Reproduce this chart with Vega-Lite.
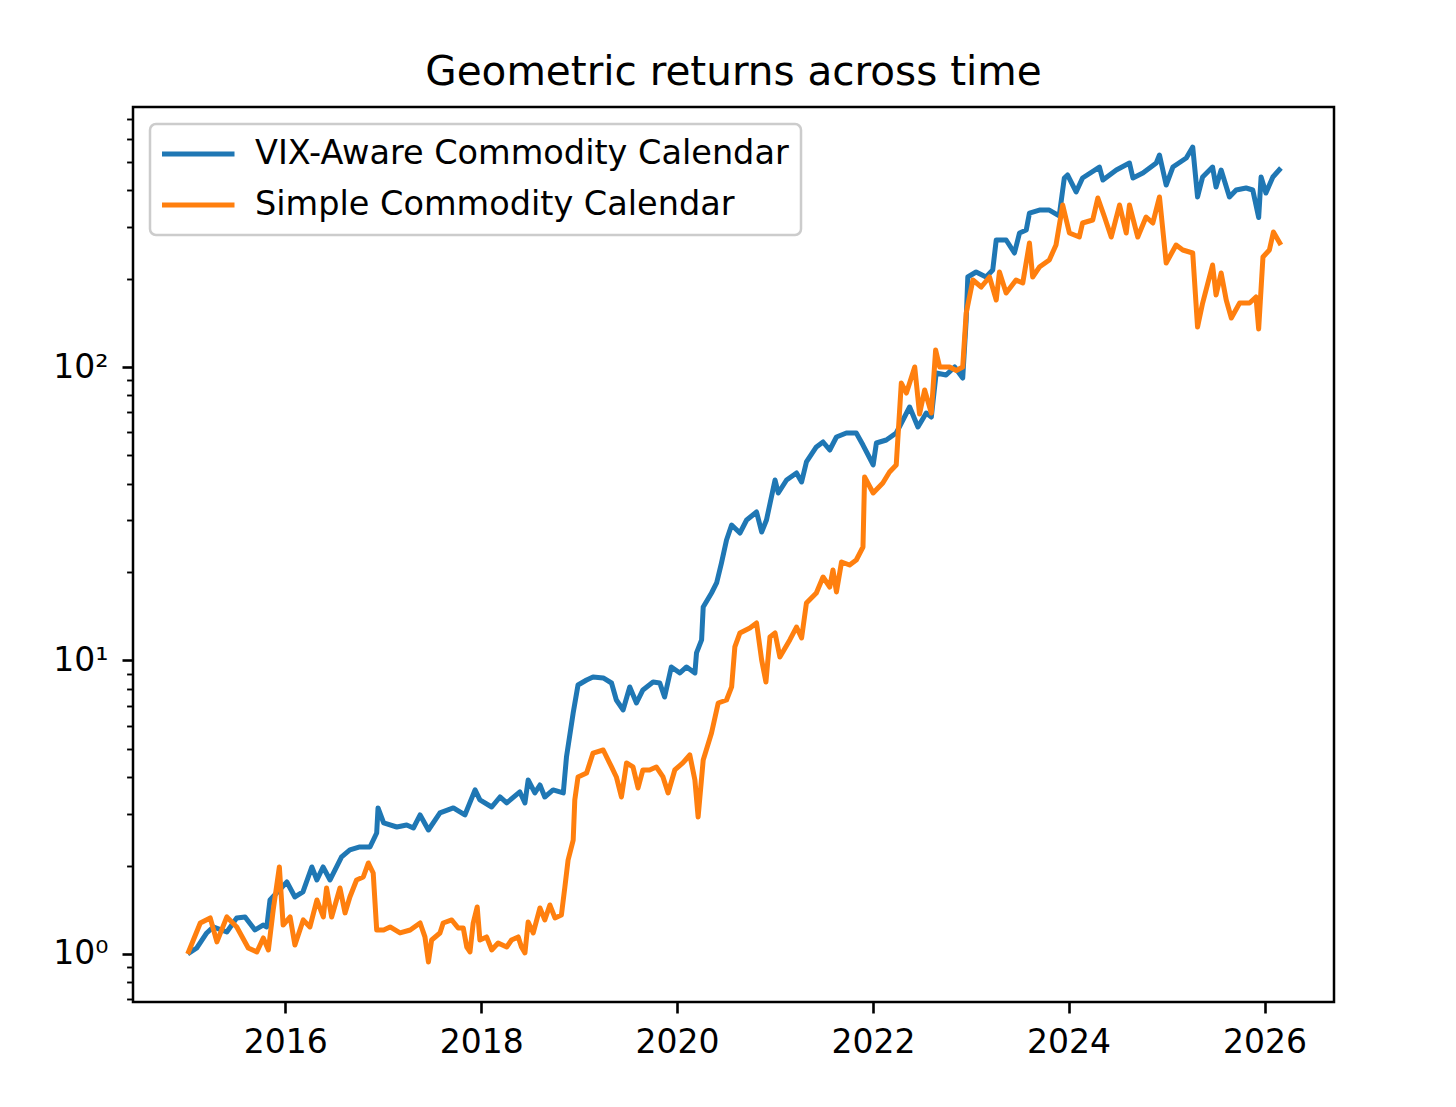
{
  "$schema": "https://vega.github.io/schema/vega-lite/v6.json",
  "autosize": {"type": "none"},
  "padding": {"left": 133, "top": 107, "right": 122, "bottom": 105},
  "width": 1201,
  "height": 895,
  "background": "white",
  "title": {"text": "Geometric returns across time", "fontSize": 40.5, "font": "DejaVu Sans", "fontWeight": "normal", "color": "black", "anchor": "middle", "frame": "group", "offset": -23, "baseline": "alphabetic"},
  "config": {"view": {"stroke": "black", "strokeWidth": 2.5}, "legend": {"strokeWidth": 2.5}},
  "data": {"values": [
    {"date": "2015-01-02", "series": "VIX-Aware Commodity Calendar", "value": 1.0},
    {"date": "2015-02-05", "series": "VIX-Aware Commodity Calendar", "value": 1.048},
    {"date": "2015-03-14", "series": "VIX-Aware Commodity Calendar", "value": 1.179},
    {"date": "2015-04-07", "series": "VIX-Aware Commodity Calendar", "value": 1.236},
    {"date": "2015-05-28", "series": "VIX-Aware Commodity Calendar", "value": 1.188},
    {"date": "2015-07-04", "series": "VIX-Aware Commodity Calendar", "value": 1.327},
    {"date": "2015-08-04", "series": "VIX-Aware Commodity Calendar", "value": 1.337},
    {"date": "2015-09-10", "series": "VIX-Aware Commodity Calendar", "value": 1.207},
    {"date": "2015-10-10", "series": "VIX-Aware Commodity Calendar", "value": 1.255},
    {"date": "2015-10-24", "series": "VIX-Aware Commodity Calendar", "value": 1.236},
    {"date": "2015-11-05", "series": "VIX-Aware Commodity Calendar", "value": 1.527},
    {"date": "2016-01-07", "series": "VIX-Aware Commodity Calendar", "value": 1.759},
    {"date": "2016-02-06", "series": "VIX-Aware Commodity Calendar", "value": 1.564},
    {"date": "2016-03-07", "series": "VIX-Aware Commodity Calendar", "value": 1.627},
    {"date": "2016-04-09", "series": "VIX-Aware Commodity Calendar", "value": 1.979},
    {"date": "2016-04-28", "series": "VIX-Aware Commodity Calendar", "value": 1.787},
    {"date": "2016-05-21", "series": "VIX-Aware Commodity Calendar", "value": 1.979},
    {"date": "2016-06-16", "series": "VIX-Aware Commodity Calendar", "value": 1.787},
    {"date": "2016-07-29", "series": "VIX-Aware Commodity Calendar", "value": 2.141},
    {"date": "2016-08-29", "series": "VIX-Aware Commodity Calendar", "value": 2.262},
    {"date": "2016-10-05", "series": "VIX-Aware Commodity Calendar", "value": 2.315},
    {"date": "2016-11-12", "series": "VIX-Aware Commodity Calendar", "value": 2.315},
    {"date": "2016-12-07", "series": "VIX-Aware Commodity Calendar", "value": 2.584},
    {"date": "2016-12-12", "series": "VIX-Aware Commodity Calendar", "value": 3.144},
    {"date": "2017-01-02", "series": "VIX-Aware Commodity Calendar", "value": 2.795},
    {"date": "2017-02-20", "series": "VIX-Aware Commodity Calendar", "value": 2.708},
    {"date": "2017-03-29", "series": "VIX-Aware Commodity Calendar", "value": 2.751},
    {"date": "2017-04-23", "series": "VIX-Aware Commodity Calendar", "value": 2.687},
    {"date": "2017-05-18", "series": "VIX-Aware Commodity Calendar", "value": 2.976},
    {"date": "2017-06-18", "series": "VIX-Aware Commodity Calendar", "value": 2.645},
    {"date": "2017-07-31", "series": "VIX-Aware Commodity Calendar", "value": 3.023},
    {"date": "2017-09-19", "series": "VIX-Aware Commodity Calendar", "value": 3.144},
    {"date": "2017-11-01", "series": "VIX-Aware Commodity Calendar", "value": 2.976},
    {"date": "2017-12-09", "series": "VIX-Aware Commodity Calendar", "value": 3.622},
    {"date": "2017-12-27", "series": "VIX-Aware Commodity Calendar", "value": 3.348},
    {"date": "2018-02-09", "series": "VIX-Aware Commodity Calendar", "value": 3.168},
    {"date": "2018-03-12", "series": "VIX-Aware Commodity Calendar", "value": 3.427},
    {"date": "2018-04-06", "series": "VIX-Aware Commodity Calendar", "value": 3.27},
    {"date": "2018-05-25", "series": "VIX-Aware Commodity Calendar", "value": 3.565},
    {"date": "2018-06-13", "series": "VIX-Aware Commodity Calendar", "value": 3.27},
    {"date": "2018-06-25", "series": "VIX-Aware Commodity Calendar", "value": 3.915},
    {"date": "2018-07-20", "series": "VIX-Aware Commodity Calendar", "value": 3.537},
    {"date": "2018-08-08", "series": "VIX-Aware Commodity Calendar", "value": 3.765},
    {"date": "2018-08-26", "series": "VIX-Aware Commodity Calendar", "value": 3.427},
    {"date": "2018-09-26", "series": "VIX-Aware Commodity Calendar", "value": 3.622},
    {"date": "2018-11-03", "series": "VIX-Aware Commodity Calendar", "value": 3.537},
    {"date": "2018-11-15", "series": "VIX-Aware Commodity Calendar", "value": 4.69},
    {"date": "2018-12-10", "series": "VIX-Aware Commodity Calendar", "value": 6.624},
    {"date": "2018-12-28", "series": "VIX-Aware Commodity Calendar", "value": 8.252},
    {"date": "2019-01-29", "series": "VIX-Aware Commodity Calendar", "value": 8.582},
    {"date": "2019-02-22", "series": "VIX-Aware Commodity Calendar", "value": 8.785},
    {"date": "2019-04-01", "series": "VIX-Aware Commodity Calendar", "value": 8.717},
    {"date": "2019-05-02", "series": "VIX-Aware Commodity Calendar", "value": 8.381},
    {"date": "2019-05-20", "series": "VIX-Aware Commodity Calendar", "value": 7.334},
    {"date": "2019-06-14", "series": "VIX-Aware Commodity Calendar", "value": 6.782},
    {"date": "2019-07-09", "series": "VIX-Aware Commodity Calendar", "value": 8.124},
    {"date": "2019-08-03", "series": "VIX-Aware Commodity Calendar", "value": 7.164},
    {"date": "2019-08-27", "series": "VIX-Aware Commodity Calendar", "value": 7.935},
    {"date": "2019-10-04", "series": "VIX-Aware Commodity Calendar", "value": 8.447},
    {"date": "2019-10-29", "series": "VIX-Aware Commodity Calendar", "value": 8.381},
    {"date": "2019-11-16", "series": "VIX-Aware Commodity Calendar", "value": 7.508},
    {"date": "2019-12-11", "series": "VIX-Aware Commodity Calendar", "value": 9.504},
    {"date": "2020-01-12", "series": "VIX-Aware Commodity Calendar", "value": 9.067},
    {"date": "2020-02-06", "series": "VIX-Aware Commodity Calendar", "value": 9.504},
    {"date": "2020-03-08", "series": "VIX-Aware Commodity Calendar", "value": 9.067},
    {"date": "2020-03-14", "series": "VIX-Aware Commodity Calendar", "value": 10.61},
    {"date": "2020-04-02", "series": "VIX-Aware Commodity Calendar", "value": 11.75},
    {"date": "2020-04-08", "series": "VIX-Aware Commodity Calendar", "value": 15.22},
    {"date": "2020-05-09", "series": "VIX-Aware Commodity Calendar", "value": 16.98},
    {"date": "2020-05-28", "series": "VIX-Aware Commodity Calendar", "value": 18.37},
    {"date": "2020-06-15", "series": "VIX-Aware Commodity Calendar", "value": 21.48},
    {"date": "2020-07-04", "series": "VIX-Aware Commodity Calendar", "value": 25.74},
    {"date": "2020-07-23", "series": "VIX-Aware Commodity Calendar", "value": 28.95},
    {"date": "2020-08-23", "series": "VIX-Aware Commodity Calendar", "value": 27.19},
    {"date": "2020-09-17", "series": "VIX-Aware Commodity Calendar", "value": 30.11},
    {"date": "2020-10-24", "series": "VIX-Aware Commodity Calendar", "value": 32.06},
    {"date": "2020-11-12", "series": "VIX-Aware Commodity Calendar", "value": 27.41},
    {"date": "2020-11-30", "series": "VIX-Aware Commodity Calendar", "value": 30.11},
    {"date": "2021-01-01", "series": "VIX-Aware Commodity Calendar", "value": 41.21},
    {"date": "2021-01-13", "series": "VIX-Aware Commodity Calendar", "value": 37.21},
    {"date": "2021-02-13", "series": "VIX-Aware Commodity Calendar", "value": 41.21},
    {"date": "2021-03-22", "series": "VIX-Aware Commodity Calendar", "value": 43.53},
    {"date": "2021-04-10", "series": "VIX-Aware Commodity Calendar", "value": 40.57},
    {"date": "2021-04-28", "series": "VIX-Aware Commodity Calendar", "value": 47.46},
    {"date": "2021-06-04", "series": "VIX-Aware Commodity Calendar", "value": 53.39},
    {"date": "2021-06-29", "series": "VIX-Aware Commodity Calendar", "value": 55.53},
    {"date": "2021-07-24", "series": "VIX-Aware Commodity Calendar", "value": 52.14},
    {"date": "2021-08-18", "series": "VIX-Aware Commodity Calendar", "value": 57.74},
    {"date": "2021-09-24", "series": "VIX-Aware Commodity Calendar", "value": 59.58},
    {"date": "2021-10-31", "series": "VIX-Aware Commodity Calendar", "value": 59.58},
    {"date": "2021-11-25", "series": "VIX-Aware Commodity Calendar", "value": 54.22},
    {"date": "2021-12-20", "series": "VIX-Aware Commodity Calendar", "value": 48.97},
    {"date": "2022-01-02", "series": "VIX-Aware Commodity Calendar", "value": 46.36},
    {"date": "2022-01-14", "series": "VIX-Aware Commodity Calendar", "value": 55.08},
    {"date": "2022-02-20", "series": "VIX-Aware Commodity Calendar", "value": 56.4},
    {"date": "2022-03-29", "series": "VIX-Aware Commodity Calendar", "value": 59.58},
    {"date": "2022-04-23", "series": "VIX-Aware Commodity Calendar", "value": 65.98},
    {"date": "2022-05-18", "series": "VIX-Aware Commodity Calendar", "value": 73.06},
    {"date": "2022-06-18", "series": "VIX-Aware Commodity Calendar", "value": 62.46},
    {"date": "2022-07-19", "series": "VIX-Aware Commodity Calendar", "value": 69.7},
    {"date": "2022-08-07", "series": "VIX-Aware Commodity Calendar", "value": 67.53},
    {"date": "2022-08-25", "series": "VIX-Aware Commodity Calendar", "value": 95.4},
    {"date": "2022-10-01", "series": "VIX-Aware Commodity Calendar", "value": 93.9},
    {"date": "2022-11-02", "series": "VIX-Aware Commodity Calendar", "value": 100.0},
    {"date": "2022-12-02", "series": "VIX-Aware Commodity Calendar", "value": 91.74},
    {"date": "2022-12-15", "series": "VIX-Aware Commodity Calendar", "value": 144.6},
    {"date": "2022-12-21", "series": "VIX-Aware Commodity Calendar", "value": 202.6},
    {"date": "2023-01-21", "series": "VIX-Aware Commodity Calendar", "value": 210.7},
    {"date": "2023-02-27", "series": "VIX-Aware Commodity Calendar", "value": 202.6},
    {"date": "2023-03-24", "series": "VIX-Aware Commodity Calendar", "value": 214.0},
    {"date": "2023-04-06", "series": "VIX-Aware Commodity Calendar", "value": 270.9},
    {"date": "2023-05-13", "series": "VIX-Aware Commodity Calendar", "value": 270.9},
    {"date": "2023-06-13", "series": "VIX-Aware Commodity Calendar", "value": 244.6},
    {"date": "2023-07-02", "series": "VIX-Aware Commodity Calendar", "value": 286.2},
    {"date": "2023-07-27", "series": "VIX-Aware Commodity Calendar", "value": 293.0},
    {"date": "2023-08-08", "series": "VIX-Aware Commodity Calendar", "value": 334.6},
    {"date": "2023-09-14", "series": "VIX-Aware Commodity Calendar", "value": 342.6},
    {"date": "2023-10-21", "series": "VIX-Aware Commodity Calendar", "value": 342.6},
    {"date": "2023-11-27", "series": "VIX-Aware Commodity Calendar", "value": 327.5},
    {"date": "2023-12-16", "series": "VIX-Aware Commodity Calendar", "value": 440.6},
    {"date": "2023-12-28", "series": "VIX-Aware Commodity Calendar", "value": 451.1},
    {"date": "2024-01-29", "series": "VIX-Aware Commodity Calendar", "value": 394.8},
    {"date": "2024-02-22", "series": "VIX-Aware Commodity Calendar", "value": 440.6},
    {"date": "2024-04-25", "series": "VIX-Aware Commodity Calendar", "value": 480.1},
    {"date": "2024-05-08", "series": "VIX-Aware Commodity Calendar", "value": 433.6},
    {"date": "2024-06-27", "series": "VIX-Aware Commodity Calendar", "value": 469.0},
    {"date": "2024-08-15", "series": "VIX-Aware Commodity Calendar", "value": 495.5},
    {"date": "2024-08-28", "series": "VIX-Aware Commodity Calendar", "value": 440.6},
    {"date": "2024-10-04", "series": "VIX-Aware Commodity Calendar", "value": 458.1},
    {"date": "2024-11-23", "series": "VIX-Aware Commodity Calendar", "value": 495.5},
    {"date": "2024-12-05", "series": "VIX-Aware Commodity Calendar", "value": 527.7},
    {"date": "2024-12-30", "series": "VIX-Aware Commodity Calendar", "value": 417.0},
    {"date": "2025-01-24", "series": "VIX-Aware Commodity Calendar", "value": 480.1},
    {"date": "2025-03-15", "series": "VIX-Aware Commodity Calendar", "value": 515.4},
    {"date": "2025-04-08", "series": "VIX-Aware Commodity Calendar", "value": 561.7},
    {"date": "2025-04-26", "series": "VIX-Aware Commodity Calendar", "value": 379.6},
    {"date": "2025-05-15", "series": "VIX-Aware Commodity Calendar", "value": 444.1},
    {"date": "2025-06-21", "series": "VIX-Aware Commodity Calendar", "value": 480.1},
    {"date": "2025-07-04", "series": "VIX-Aware Commodity Calendar", "value": 410.5},
    {"date": "2025-07-23", "series": "VIX-Aware Commodity Calendar", "value": 469.0},
    {"date": "2025-08-23", "series": "VIX-Aware Commodity Calendar", "value": 379.6},
    {"date": "2025-09-17", "series": "VIX-Aware Commodity Calendar", "value": 401.0},
    {"date": "2025-10-24", "series": "VIX-Aware Commodity Calendar", "value": 407.3},
    {"date": "2025-11-18", "series": "VIX-Aware Commodity Calendar", "value": 401.0},
    {"date": "2025-12-10", "series": "VIX-Aware Commodity Calendar", "value": 323.1},
    {"date": "2025-12-19", "series": "VIX-Aware Commodity Calendar", "value": 444.1},
    {"date": "2026-01-06", "series": "VIX-Aware Commodity Calendar", "value": 391.6},
    {"date": "2026-02-01", "series": "VIX-Aware Commodity Calendar", "value": 444.1},
    {"date": "2026-03-03", "series": "VIX-Aware Commodity Calendar", "value": 476.4},
    {"date": "2015-01-02", "series": "Simple Commodity Calendar", "value": 1.0},
    {"date": "2015-02-18", "series": "Simple Commodity Calendar", "value": 1.275},
    {"date": "2015-03-27", "series": "Simple Commodity Calendar", "value": 1.327},
    {"date": "2015-04-21", "series": "Simple Commodity Calendar", "value": 1.099},
    {"date": "2015-05-28", "series": "Simple Commodity Calendar", "value": 1.337},
    {"date": "2015-07-04", "series": "Simple Commodity Calendar", "value": 1.236},
    {"date": "2015-08-16", "series": "Simple Commodity Calendar", "value": 1.048},
    {"date": "2015-09-17", "series": "Simple Commodity Calendar", "value": 1.016},
    {"date": "2015-10-11", "series": "Simple Commodity Calendar", "value": 1.134},
    {"date": "2015-10-30", "series": "Simple Commodity Calendar", "value": 1.032},
    {"date": "2015-11-17", "series": "Simple Commodity Calendar", "value": 1.412},
    {"date": "2015-12-10", "series": "Simple Commodity Calendar", "value": 1.979},
    {"date": "2015-12-24", "series": "Simple Commodity Calendar", "value": 1.255},
    {"date": "2016-01-19", "series": "Simple Commodity Calendar", "value": 1.337},
    {"date": "2016-02-06", "series": "Simple Commodity Calendar", "value": 1.073},
    {"date": "2016-03-08", "series": "Simple Commodity Calendar", "value": 1.306},
    {"date": "2016-04-02", "series": "Simple Commodity Calendar", "value": 1.236},
    {"date": "2016-04-28", "series": "Simple Commodity Calendar", "value": 1.527},
    {"date": "2016-05-22", "series": "Simple Commodity Calendar", "value": 1.337},
    {"date": "2016-06-03", "series": "Simple Commodity Calendar", "value": 1.678},
    {"date": "2016-06-22", "series": "Simple Commodity Calendar", "value": 1.337},
    {"date": "2016-07-23", "series": "Simple Commodity Calendar", "value": 1.678},
    {"date": "2016-08-11", "series": "Simple Commodity Calendar", "value": 1.38},
    {"date": "2016-08-29", "series": "Simple Commodity Calendar", "value": 1.564},
    {"date": "2016-09-23", "series": "Simple Commodity Calendar", "value": 1.787},
    {"date": "2016-10-18", "series": "Simple Commodity Calendar", "value": 1.829},
    {"date": "2016-11-06", "series": "Simple Commodity Calendar", "value": 2.042},
    {"date": "2016-11-24", "series": "Simple Commodity Calendar", "value": 1.888},
    {"date": "2016-12-07", "series": "Simple Commodity Calendar", "value": 1.207},
    {"date": "2017-01-02", "series": "Simple Commodity Calendar", "value": 1.207},
    {"date": "2017-01-26", "series": "Simple Commodity Calendar", "value": 1.236},
    {"date": "2017-03-04", "series": "Simple Commodity Calendar", "value": 1.179},
    {"date": "2017-04-11", "series": "Simple Commodity Calendar", "value": 1.207},
    {"date": "2017-05-18", "series": "Simple Commodity Calendar", "value": 1.275},
    {"date": "2017-06-05", "series": "Simple Commodity Calendar", "value": 1.143},
    {"date": "2017-06-18", "series": "Simple Commodity Calendar", "value": 0.939},
    {"date": "2017-06-30", "series": "Simple Commodity Calendar", "value": 1.116},
    {"date": "2017-07-31", "series": "Simple Commodity Calendar", "value": 1.179},
    {"date": "2017-08-12", "series": "Simple Commodity Calendar", "value": 1.275},
    {"date": "2017-09-13", "series": "Simple Commodity Calendar", "value": 1.306},
    {"date": "2017-10-07", "series": "Simple Commodity Calendar", "value": 1.226},
    {"date": "2017-10-26", "series": "Simple Commodity Calendar", "value": 1.226},
    {"date": "2017-11-08", "series": "Simple Commodity Calendar", "value": 1.056},
    {"date": "2017-11-20", "series": "Simple Commodity Calendar", "value": 1.016},
    {"date": "2017-12-02", "series": "Simple Commodity Calendar", "value": 1.275},
    {"date": "2017-12-17", "series": "Simple Commodity Calendar", "value": 1.446},
    {"date": "2017-12-27", "series": "Simple Commodity Calendar", "value": 1.116},
    {"date": "2018-01-21", "series": "Simple Commodity Calendar", "value": 1.143},
    {"date": "2018-02-09", "series": "Simple Commodity Calendar", "value": 1.032},
    {"date": "2018-03-05", "series": "Simple Commodity Calendar", "value": 1.09},
    {"date": "2018-04-06", "series": "Simple Commodity Calendar", "value": 1.056},
    {"date": "2018-04-24", "series": "Simple Commodity Calendar", "value": 1.116},
    {"date": "2018-05-19", "series": "Simple Commodity Calendar", "value": 1.143},
    {"date": "2018-05-31", "series": "Simple Commodity Calendar", "value": 1.056},
    {"date": "2018-06-13", "series": "Simple Commodity Calendar", "value": 1.008},
    {"date": "2018-06-25", "series": "Simple Commodity Calendar", "value": 1.285},
    {"date": "2018-07-14", "series": "Simple Commodity Calendar", "value": 1.179},
    {"date": "2018-08-08", "series": "Simple Commodity Calendar", "value": 1.435},
    {"date": "2018-08-26", "series": "Simple Commodity Calendar", "value": 1.306},
    {"date": "2018-09-14", "series": "Simple Commodity Calendar", "value": 1.469},
    {"date": "2018-10-03", "series": "Simple Commodity Calendar", "value": 1.327},
    {"date": "2018-10-27", "series": "Simple Commodity Calendar", "value": 1.358},
    {"date": "2018-11-09", "series": "Simple Commodity Calendar", "value": 1.691},
    {"date": "2018-11-21", "series": "Simple Commodity Calendar", "value": 2.09},
    {"date": "2018-12-10", "series": "Simple Commodity Calendar", "value": 2.445},
    {"date": "2018-12-16", "series": "Simple Commodity Calendar", "value": 3.348},
    {"date": "2018-12-28", "series": "Simple Commodity Calendar", "value": 4.009},
    {"date": "2019-01-29", "series": "Simple Commodity Calendar", "value": 4.137},
    {"date": "2019-02-22", "series": "Simple Commodity Calendar", "value": 4.838},
    {"date": "2019-04-01", "series": "Simple Commodity Calendar", "value": 4.954},
    {"date": "2019-05-02", "series": "Simple Commodity Calendar", "value": 4.337},
    {"date": "2019-05-20", "series": "Simple Commodity Calendar", "value": 4.009},
    {"date": "2019-06-08", "series": "Simple Commodity Calendar", "value": 3.427},
    {"date": "2019-06-27", "series": "Simple Commodity Calendar", "value": 4.476},
    {"date": "2019-07-21", "series": "Simple Commodity Calendar", "value": 4.337},
    {"date": "2019-08-09", "series": "Simple Commodity Calendar", "value": 3.678},
    {"date": "2019-08-27", "series": "Simple Commodity Calendar", "value": 4.236},
    {"date": "2019-09-21", "series": "Simple Commodity Calendar", "value": 4.236},
    {"date": "2019-10-16", "series": "Simple Commodity Calendar", "value": 4.337},
    {"date": "2019-11-10", "series": "Simple Commodity Calendar", "value": 4.009},
    {"date": "2019-11-29", "series": "Simple Commodity Calendar", "value": 3.537},
    {"date": "2019-12-24", "series": "Simple Commodity Calendar", "value": 4.236},
    {"date": "2020-01-23", "series": "Simple Commodity Calendar", "value": 4.476},
    {"date": "2020-02-18", "series": "Simple Commodity Calendar", "value": 4.764},
    {"date": "2020-03-08", "series": "Simple Commodity Calendar", "value": 3.915},
    {"date": "2020-03-20", "series": "Simple Commodity Calendar", "value": 2.93},
    {"date": "2020-04-08", "series": "Simple Commodity Calendar", "value": 4.581},
    {"date": "2020-05-09", "series": "Simple Commodity Calendar", "value": 5.662},
    {"date": "2020-06-03", "series": "Simple Commodity Calendar", "value": 7.164},
    {"date": "2020-07-04", "series": "Simple Commodity Calendar", "value": 7.334},
    {"date": "2020-07-23", "series": "Simple Commodity Calendar", "value": 8.124},
    {"date": "2020-08-04", "series": "Simple Commodity Calendar", "value": 11.12},
    {"date": "2020-08-23", "series": "Simple Commodity Calendar", "value": 12.41},
    {"date": "2020-09-29", "series": "Simple Commodity Calendar", "value": 12.9},
    {"date": "2020-10-24", "series": "Simple Commodity Calendar", "value": 13.42},
    {"date": "2020-11-12", "series": "Simple Commodity Calendar", "value": 10.04},
    {"date": "2020-11-28", "series": "Simple Commodity Calendar", "value": 8.447},
    {"date": "2020-12-13", "series": "Simple Commodity Calendar", "value": 12.03},
    {"date": "2021-01-01", "series": "Simple Commodity Calendar", "value": 12.41},
    {"date": "2021-01-19", "series": "Simple Commodity Calendar", "value": 10.28},
    {"date": "2021-02-25", "series": "Simple Commodity Calendar", "value": 11.75},
    {"date": "2021-03-22", "series": "Simple Commodity Calendar", "value": 13.0},
    {"date": "2021-04-10", "series": "Simple Commodity Calendar", "value": 11.93},
    {"date": "2021-04-28", "series": "Simple Commodity Calendar", "value": 15.7},
    {"date": "2021-06-04", "series": "Simple Commodity Calendar", "value": 16.98},
    {"date": "2021-06-29", "series": "Simple Commodity Calendar", "value": 19.25},
    {"date": "2021-07-24", "series": "Simple Commodity Calendar", "value": 17.8},
    {"date": "2021-08-05", "series": "Simple Commodity Calendar", "value": 20.34},
    {"date": "2021-08-18", "series": "Simple Commodity Calendar", "value": 17.12},
    {"date": "2021-09-06", "series": "Simple Commodity Calendar", "value": 21.66},
    {"date": "2021-10-06", "series": "Simple Commodity Calendar", "value": 21.15},
    {"date": "2021-10-31", "series": "Simple Commodity Calendar", "value": 22.0},
    {"date": "2021-11-25", "series": "Simple Commodity Calendar", "value": 24.36},
    {"date": "2021-12-01", "series": "Simple Commodity Calendar", "value": 42.2},
    {"date": "2022-01-02", "series": "Simple Commodity Calendar", "value": 37.21},
    {"date": "2022-02-07", "series": "Simple Commodity Calendar", "value": 40.25},
    {"date": "2022-03-04", "series": "Simple Commodity Calendar", "value": 43.87},
    {"date": "2022-03-29", "series": "Simple Commodity Calendar", "value": 46.36},
    {"date": "2022-04-17", "series": "Simple Commodity Calendar", "value": 88.2},
    {"date": "2022-05-06", "series": "Simple Commodity Calendar", "value": 81.5},
    {"date": "2022-06-06", "series": "Simple Commodity Calendar", "value": 100.0},
    {"date": "2022-06-24", "series": "Simple Commodity Calendar", "value": 69.2},
    {"date": "2022-07-13", "series": "Simple Commodity Calendar", "value": 83.5},
    {"date": "2022-08-07", "series": "Simple Commodity Calendar", "value": 69.7},
    {"date": "2022-08-23", "series": "Simple Commodity Calendar", "value": 114.3},
    {"date": "2022-09-07", "series": "Simple Commodity Calendar", "value": 100.0},
    {"date": "2022-10-14", "series": "Simple Commodity Calendar", "value": 100.0},
    {"date": "2022-11-08", "series": "Simple Commodity Calendar", "value": 97.3},
    {"date": "2022-12-02", "series": "Simple Commodity Calendar", "value": 100.0},
    {"date": "2022-12-15", "series": "Simple Commodity Calendar", "value": 152.8},
    {"date": "2023-01-09", "series": "Simple Commodity Calendar", "value": 197.9},
    {"date": "2023-02-09", "series": "Simple Commodity Calendar", "value": 187.3},
    {"date": "2023-03-12", "series": "Simple Commodity Calendar", "value": 202.6},
    {"date": "2023-04-06", "series": "Simple Commodity Calendar", "value": 169.1},
    {"date": "2023-04-18", "series": "Simple Commodity Calendar", "value": 210.7},
    {"date": "2023-05-13", "series": "Simple Commodity Calendar", "value": 178.7},
    {"date": "2023-06-19", "series": "Simple Commodity Calendar", "value": 197.9},
    {"date": "2023-07-14", "series": "Simple Commodity Calendar", "value": 193.3},
    {"date": "2023-08-08", "series": "Simple Commodity Calendar", "value": 264.6},
    {"date": "2023-08-20", "series": "Simple Commodity Calendar", "value": 202.6},
    {"date": "2023-09-14", "series": "Simple Commodity Calendar", "value": 219.1},
    {"date": "2023-10-21", "series": "Simple Commodity Calendar", "value": 231.6},
    {"date": "2023-11-15", "series": "Simple Commodity Calendar", "value": 260.4},
    {"date": "2023-12-10", "series": "Simple Commodity Calendar", "value": 356.4},
    {"date": "2024-01-04", "series": "Simple Commodity Calendar", "value": 286.2},
    {"date": "2024-02-10", "series": "Simple Commodity Calendar", "value": 277.3},
    {"date": "2024-02-22", "series": "Simple Commodity Calendar", "value": 309.5},
    {"date": "2024-03-31", "series": "Simple Commodity Calendar", "value": 316.9},
    {"date": "2024-04-19", "series": "Simple Commodity Calendar", "value": 376.5},
    {"date": "2024-05-14", "series": "Simple Commodity Calendar", "value": 324.4},
    {"date": "2024-06-08", "series": "Simple Commodity Calendar", "value": 277.3},
    {"date": "2024-07-09", "series": "Simple Commodity Calendar", "value": 356.4},
    {"date": "2024-08-03", "series": "Simple Commodity Calendar", "value": 286.2},
    {"date": "2024-08-15", "series": "Simple Commodity Calendar", "value": 356.4},
    {"date": "2024-09-15", "series": "Simple Commodity Calendar", "value": 277.3},
    {"date": "2024-10-16", "series": "Simple Commodity Calendar", "value": 324.4},
    {"date": "2024-11-10", "series": "Simple Commodity Calendar", "value": 309.5},
    {"date": "2024-12-05", "series": "Simple Commodity Calendar", "value": 379.6},
    {"date": "2024-12-30", "series": "Simple Commodity Calendar", "value": 226.2},
    {"date": "2025-02-05", "series": "Simple Commodity Calendar", "value": 260.4},
    {"date": "2025-03-02", "series": "Simple Commodity Calendar", "value": 250.4},
    {"date": "2025-04-08", "series": "Simple Commodity Calendar", "value": 244.6},
    {"date": "2025-04-26", "series": "Simple Commodity Calendar", "value": 136.8},
    {"date": "2025-05-15", "series": "Simple Commodity Calendar", "value": 165.2},
    {"date": "2025-06-21", "series": "Simple Commodity Calendar", "value": 222.6},
    {"date": "2025-07-04", "series": "Simple Commodity Calendar", "value": 175.9},
    {"date": "2025-07-23", "series": "Simple Commodity Calendar", "value": 209.1},
    {"date": "2025-08-11", "series": "Simple Commodity Calendar", "value": 169.1},
    {"date": "2025-08-30", "series": "Simple Commodity Calendar", "value": 146.9},
    {"date": "2025-09-30", "series": "Simple Commodity Calendar", "value": 165.2},
    {"date": "2025-11-06", "series": "Simple Commodity Calendar", "value": 165.2},
    {"date": "2025-11-30", "series": "Simple Commodity Calendar", "value": 173.2},
    {"date": "2025-12-10", "series": "Simple Commodity Calendar", "value": 134.8},
    {"date": "2025-12-26", "series": "Simple Commodity Calendar", "value": 237.0},
    {"date": "2026-01-19", "series": "Simple Commodity Calendar", "value": 250.4},
    {"date": "2026-02-03", "series": "Simple Commodity Calendar", "value": 288.4},
    {"date": "2026-03-03", "series": "Simple Commodity Calendar", "value": 260.4}
  ]},
  "mark": {"type": "line", "strokeWidth": 5, "strokeJoin": "round", "clip": true},
  "encoding": {
    "x": {
      "field": "date", "type": "temporal",
      "scale": {"domain": ["2014-06-12", "2026-09-17"], "nice": false},
      "axis": {
        "title": null, "grid": false, "domain": false,
        "values": [{"year": 2016}, {"year": 2018}, {"year": 2020}, {"year": 2022}, {"year": 2024}, {"year": 2026}],
        "format": "%Y", "tickSize": 11, "tickWidth": 2.6, "tickColor": "black",
        "labelFont": "DejaVu Sans", "labelFontSize": 33, "labelColor": "black",
        "labelPadding": 13, "labelOverlap": false, "labelFlush": false
      }
    },
    "y": {
      "field": "value", "type": "quantitative",
      "scale": {"type": "log", "domain": [0.686, 769], "nice": false, "zero": false},
      "axis": {
        "title": null, "grid": false, "domain": false,
        "values": [0.7, 0.8, 0.9, 1, 2, 3, 4, 5, 6, 7, 8, 9, 10, 20, 30, 40, 50, 60, 70, 80, 90, 100, 200, 300, 400, 500, 600, 700],
        "labelExpr": "datum.value == 1 ? '10⁰' : datum.value == 10 ? '10¹' : datum.value == 100 ? '10²' : ''",
        "tickSize": {"condition": {"test": "datum.value == 1 || datum.value == 10 || datum.value == 100", "value": 11}, "value": 6.4},
        "tickWidth": {"condition": {"test": "datum.value == 1 || datum.value == 10 || datum.value == 100", "value": 2.6}, "value": 1.9},
        "tickColor": "black",
        "labelFont": "DejaVu Sans", "labelFontSize": 33, "labelColor": "black",
        "labelPadding": 14, "labelOverlap": false, "labelFlush": false
      }
    },
    "color": {
      "field": "series", "type": "nominal",
      "scale": {"domain": ["VIX-Aware Commodity Calendar", "Simple Commodity Calendar"], "range": ["#1f77b4", "#ff7f0e"]},
      "legend": {
        "title": null, "orient": "top-left", "offset": 17,
        "symbolType": "stroke", "symbolSize": 5329, "symbolStrokeWidth": 5, "symbolOffset": -3,
        "labelFont": "DejaVu Sans", "labelFontSize": 33.5, "labelColor": "black", "labelLimit": 2000,
        "labelOffset": 18, "padding": 12, "rowPadding": 15, "clipHeight": 36,
        "fillColor": "rgba(255,255,255,0.8)", "strokeColor": "#cccccc", "cornerRadius": 6
      }
    }
  }
}
